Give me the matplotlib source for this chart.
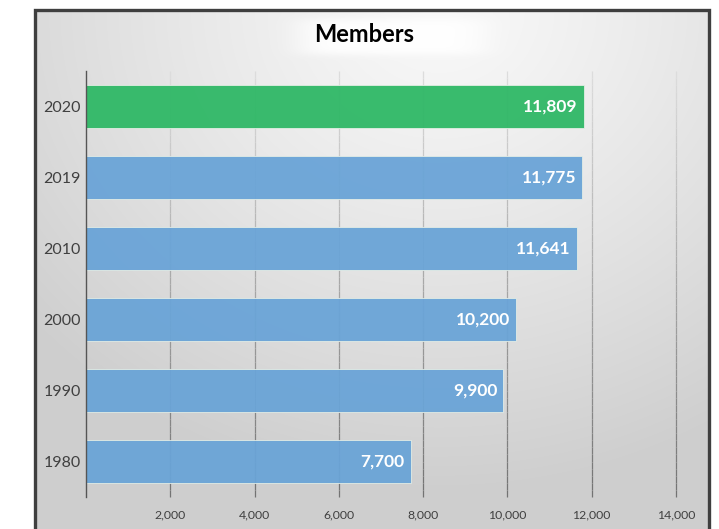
import numpy as np
import matplotlib.pyplot as plt
from matplotlib.patches import Rectangle
from matplotlib.collections import LineCollection
from matplotlib.ticker import FuncFormatter

plt.rcParams['font.family'] = ['Lato', 'DejaVu Sans']

categories = ['1980', '1990', '2000', '2010', '2019', '2020']
members = [7700, 9900, 10200, 11641, 11775, 11809]
colors = ['#6aa4d7'] * 5 + ['#2fb866']
title = 'Members'
xticks = [2000, 4000, 6000, 8000, 10000, 12000, 14000]

W, H = 719, 529
fig = plt.figure(figsize=(W / 100, H / 100), dpi=100)
fig.patch.set_facecolor('white')

# background frame with radial gradient
fx0, fx1, fy0, fy1 = 35, 709, 10, 532
bg = fig.add_axes([fx0 / W, 1 - fy1 / H, (fx1 - fx0) / W, (fy1 - fy0) / H], zorder=0)
nx, ny = 400, 300
xx, yy = np.meshgrid(np.linspace(0, 1, nx), np.linspace(0, 1, ny))
d = np.sqrt(((xx - 0.6) / 1.0) ** 2 + ((yy - 0.0) / 1.15) ** 2)
val = 0.975 - 0.165 * np.clip(d / 0.8, 0, 1) ** 1.2
# soft white highlight behind the title
hx = (xx - 0.53) / 0.14
hy = (yy - 0.05) / 0.035
hl = np.exp(-(np.abs(hx) ** 6 + np.abs(hy) ** 6))
val = val + (1.0 - val) * 0.95 * hl
img = np.dstack([val, val, val])
bg.imshow(img, aspect='auto', extent=[0, 1, 1, 0], interpolation='bilinear')
bg.set_xlim(0, 1)
bg.set_ylim(1, 0)
bg.axis('off')

fig.patches.append(Rectangle((fx0 / W, 1 - fy1 / H), (fx1 - fx0) / W, (fy1 - fy0) / H,
                             transform=fig.transFigure, fill=False,
                             edgecolor='#3f3f3f', linewidth=2.4, zorder=10))

ax = fig.add_axes([86 / W, 1 - 497 / H, (676 - 86) / W, (497 - 71) / H], zorder=1)
ax.patch.set_alpha(0)
y = np.arange(len(categories))
ax.set_xlim(0, 14000)
ax.set_ylim(-0.5, len(categories) - 0.5)

# gridlines with vertical gradient (light at top, darker at bottom)
nseg = 60
ys = np.linspace(-0.5, len(categories) - 0.5, nseg + 1)
for xt in xticks:
    segs = [[(xt, ys[i]), (xt, ys[i + 1])] for i in range(nseg)]
    t = (ys[:-1] - ys[0]) / (ys[-1] - ys[0])  # 0 bottom, 1 top
    g = 0.45 + 0.42 * t
    cols = [(gi, gi, gi) for gi in g]
    lc = LineCollection(segs, colors=cols, linewidths=0.9, zorder=1)
    lc.set_clip_on(False)
    ax.add_collection(lc)

ax.barh(y, members, height=0.6, color=colors, zorder=2, alpha=0.95,
        edgecolor='#e6efe6', linewidth=0.6)
ax.set_yticks(y)
ax.set_yticklabels(categories, fontsize=11.5, color='#404040')
ax.set_xticks(xticks)
ax.xaxis.set_major_formatter(FuncFormatter(lambda v, p: f'{int(v):,}'))
ax.tick_params(axis='x', labelsize=8.8, labelcolor='#404040', length=0, pad=9)
ax.tick_params(axis='y', length=0, pad=3.8)
for s in ['top', 'right', 'bottom']:
    ax.spines[s].set_visible(False)
ax.spines['left'].set_color('#555555')
ax.spines['left'].set_linewidth(1.0)
ax.spines['left'].set_zorder(3)

for yi, v in zip(y, members):
    ax.text(v - 140, yi, f'{v:,}', ha='right', va='center', color='white',
            fontsize=12.5, fontweight='bold', zorder=4)

fig.text(364 / W, 1 - 35 / H, title, ha='center', va='center', fontsize=17,
         fontweight='bold', color='black')

fig.savefig('out.png', dpi=100)
